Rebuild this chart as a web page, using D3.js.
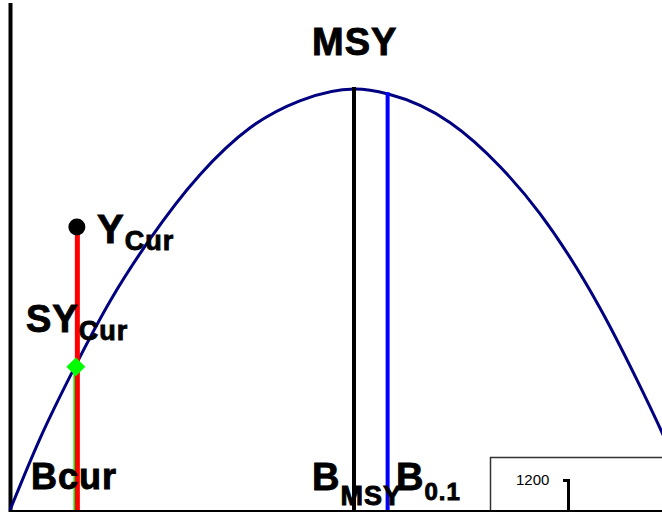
<!DOCTYPE html>
<html>
<head>
<meta charset="utf-8">
<script src="https://cdn.jsdelivr.net/npm/d3@7"></script>
<style>
  body { margin: 0; background: #fff; }
  svg text { font-family: "Liberation Sans", Arial, sans-serif; font-weight: bold; fill: #000; }
  svg text.lbl { stroke: #000; stroke-width: 0.9px; }
</style>
</head>
<body>
<svg id="chart" width="662" height="512"></svg>
<script>
// courbe de production
const biomass    = [0, 43, 94, 145, 203, 275, 348, 420, 500, 548, 638, 710, 768, 855, 909, 945, 993];
const production = [0, 42, 85, 124, 161, 199, 227, 243, 250, 247, 230, 204, 176, 120, 77, 46, 0];

// points de reference
const Bcur = 94, Ycur = 168, SYcur = 85;
const Bmsy = 500, MSY = 250;
const B01 = 548, Y01 = 248;

// encart (autre graphique coupe)
const insetTick = ["1200"];

const width = 662, height = 512;
const svg = d3.select("#chart");

const x = d3.scaleLinear().domain([0, 1000]).range([10, 700]);
const y = d3.scaleLinear().domain([0, 250]).range([510, 89]);

// axe gauche
svg.append("line").attr("x1", 10.5).attr("x2", 10.5).attr("y1", 3).attr("y2", 512)
  .attr("stroke", "#000").attr("stroke-width", 4);

// courbe
const line = d3.line().x((d, i) => x(biomass[i])).y(d => y(d)).curve(d3.curveMonotoneX);
svg.append("path").datum(production)
  .attr("d", line)
  .attr("fill", "none").attr("stroke", "#000080").attr("stroke-width", 3);

// lignes verticales
svg.append("line").attr("x1", x(Bmsy) - 1).attr("x2", x(Bmsy) - 1)
  .attr("y1", y(MSY) - 2).attr("y2", 512).attr("stroke", "#000").attr("stroke-width", 4);
svg.append("line").attr("x1", x(B01) - 0.5).attr("x2", x(B01) - 0.5)
  .attr("y1", y(Y01)).attr("y2", 512).attr("stroke", "#0000ff").attr("stroke-width", 4);

svg.append("line").attr("x1", x(Bcur) - 0.5).attr("x2", x(Bcur) - 0.5)
  .attr("y1", y(SYcur)).attr("y2", 512).attr("stroke", "#00ff00").attr("stroke-width", 2);
svg.append("line").attr("x1", x(Bcur) + 2.5).attr("x2", x(Bcur) + 2.5)
  .attr("y1", y(Ycur)).attr("y2", 512).attr("stroke", "#ff0000").attr("stroke-width", 5);

// symboles
svg.append("rect")
  .attr("x", -6.7).attr("y", -6.7).attr("width", 13.4).attr("height", 13.4)
  .attr("fill", "#00ff00")
  .attr("transform", `translate(${x(Bcur) + 1},${y(SYcur)}) rotate(45)`);
svg.append("circle").attr("cx", x(Bcur) + 2).attr("cy", y(Ycur)).attr("r", 8.5).attr("fill", "#000");

// etiquettes
function label(tx, ty, main, sub, subDy, mainSize, subSize) {
  const t = svg.append("text").attr("class", "lbl").attr("x", tx).attr("y", ty)
    .style("font-size", mainSize + "px").style("letter-spacing", "1px");
  t.append("tspan").text(main);
  if (sub) t.append("tspan").attr("dy", subDy).style("font-size", subSize + "px").text(sub);
}
label(312, 55, "MSY", null, 0, 38, 0);
label(31, 489, "Bcur", null, 0, 36, 0);
label(312, 490, "B", "MSY", 15, 38, 27);
label(396, 490, "B", "0.1", 10, 38, 24);
label(97, 243, "Y", "Cur", 7, 40, 27);
label(26, 332, "SY", "Cur", 8, 38, 27);

// encart
svg.append("rect").attr("x", 490.5).attr("y", 457.5).attr("width", 200).attr("height", 80)
  .attr("fill", "#fff").attr("stroke", "#333").attr("stroke-width", 1.5);
svg.selectAll(".inset").data(insetTick).join("text")
  .attr("x", 516).attr("y", 485)
  .style("font-weight", "normal").style("font-size", "15px").text(d => d);
svg.append("path").attr("d", "M563,480.5H568.5V512").attr("fill", "none")
  .attr("stroke", "#000").attr("stroke-width", 3);

// axe du bas
svg.append("line").attr("x1", 10).attr("x2", width).attr("y1", 511).attr("y2", 511)
  .attr("stroke", "#000").attr("stroke-width", 2);
</script>
</body>
</html>
